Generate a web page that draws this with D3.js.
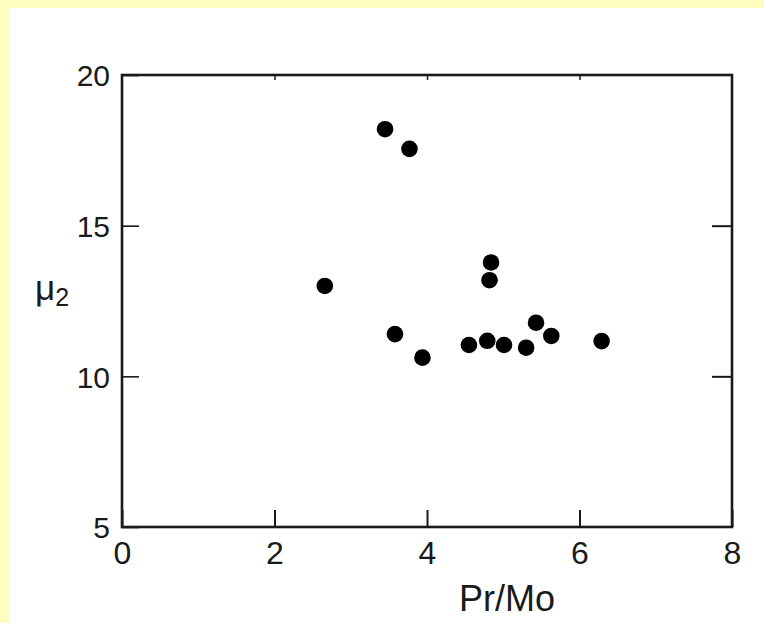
<!DOCTYPE html>
<html>
<head>
<meta charset="utf-8">
<script src="https://cdn.jsdelivr.net/npm/d3@7"></script>
<style>
  html, body { margin: 0; padding: 0; background: #fffcc0; }
  svg { display: block; }
</style>
</head>
<body>
<svg id="chart" width="764" height="623"></svg>
<script>
// ---- data ----
const prMo = [3.45, 3.77, 2.66, 4.84, 4.82, 3.58, 3.94, 4.55, 4.79, 5.01, 5.30, 5.43, 5.63, 6.29];
const mu2  = [18.2, 17.55, 13.0, 13.78, 13.19, 11.4, 10.62, 11.04, 11.18, 11.04, 10.95, 11.78, 11.34, 11.17];
const xTicks = [0, 2, 4, 6, 8];
const yTicks = [5, 10, 15, 20];
const xLabel = "Pr/Mo";

// ---- layout ----
const svg = d3.select("#chart");
const W = 764, H = 623;
svg.append("rect").attr("x", 0).attr("y", 0).attr("width", W).attr("height", H).attr("fill", "#fffcc0");
svg.append("rect").attr("x", 9).attr("y", 8).attr("width", W - 9).attr("height", H - 8).attr("fill", "#ffffff");

const x = d3.scaleLinear().domain([0, 8]).range([122, 732]);
const y = d3.scaleLinear().domain([5, 20]).range([527, 75]);
const font = "'Liberation Sans', Arial, Helvetica, sans-serif";
const ink = "#1a1a1a";

// bottom axis: labels + inward ticks
const gx = svg.append("g").attr("transform", `translate(0,${y(5)})`)
  .call(d3.axisBottom(x).tickValues(xTicks).tickSizeInner(-17).tickSizeOuter(0).tickPadding(27).tickFormat(d3.format("d")));
gx.select(".domain").remove();
gx.selectAll(".tick line").attr("stroke", ink).attr("stroke-width", 2);
gx.selectAll(".tick text").attr("font-family", font).attr("font-size", 32).attr("fill", ink).attr("dy", "0.32em");

// top inward ticks (short)
const gt = svg.append("g").attr("transform", `translate(0,${y(20)})`)
  .call(d3.axisTop(x).tickValues(xTicks.slice(1, -1)).tickSizeInner(-5).tickSizeOuter(0).tickFormat(""));
gt.select(".domain").remove();
gt.selectAll(".tick line").attr("stroke", ink).attr("stroke-width", 1.5);

// left axis
const gy = svg.append("g").attr("transform", `translate(${x(0)},0)`)
  .call(d3.axisLeft(y).tickValues(yTicks).tickSizeInner(-17).tickSizeOuter(0).tickPadding(12).tickFormat(d3.format("d")));
gy.select(".domain").remove();
gy.selectAll(".tick line").attr("stroke", ink).attr("stroke-width", 1.6);
gy.selectAll(".tick text").attr("font-family", font).attr("font-size", 30).attr("fill", ink).attr("dy", "0.36em");

// right axis ticks
const gr = svg.append("g").attr("transform", `translate(${x(8)},0)`)
  .call(d3.axisRight(y).tickValues(yTicks.slice(1, -1)).tickSizeInner(-20).tickSizeOuter(0).tickFormat(""));
gr.select(".domain").remove();
gr.selectAll(".tick line").attr("stroke", ink).attr("stroke-width", 2);

// frame
svg.append("rect")
  .attr("x", x(0)).attr("y", y(20))
  .attr("width", x(8) - x(0)).attr("height", y(5) - y(20))
  .attr("fill", "none").attr("stroke", ink).attr("stroke-width", 2.6);

// points
svg.append("g").selectAll("circle")
  .data(prMo.map((v, i) => ({ x: v, y: mu2[i] })))
  .join("circle")
  .attr("cx", d => x(d.x)).attr("cy", d => y(d.y))
  .attr("r", 8.3).attr("fill", "#000");

// axis titles
svg.append("text")
  .attr("x", (x(0) + x(8)) / 2 + 80).attr("y", 611)
  .attr("text-anchor", "middle")
  .attr("font-family", font).attr("font-size", 36).attr("fill", ink)
  .text(xLabel);

const yl = svg.append("text")
  .attr("x", 35).attr("y", 300)
  .attr("font-family", font).attr("font-size", 35).attr("fill", ink);
yl.append("tspan").text("μ");
yl.append("tspan").attr("font-size", 25).attr("dy", 6).text("2");
</script>
</body>
</html>
